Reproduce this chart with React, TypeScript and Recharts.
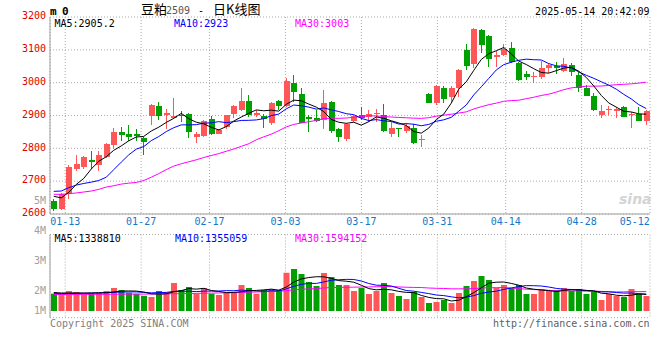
import React from 'react';
import { ComposedChart, Bar, Line, XAxis, YAxis, CartesianGrid, Cell } from 'recharts';

const MONO = "'DejaVu Sans Mono', monospace";
const CJK = "'Noto Sans CJK SC', sans-serif";
const RED = '#ff5757';
const GREEN = '#00a000';
const GRID = '#ababab';
const BORDER = '#a0a0a0';
const DATE_BLUE = '#1478c8';

const dates = [
  '01-09', '01-10', '01-13', '01-14', '01-15', '01-16', '01-17', '01-20', '01-21', '01-22',
  '01-23', '01-24', '01-27', '02-05', '02-06', '02-07', '02-10', '02-11', '02-12', '02-13',
  '02-14', '02-17', '02-18', '02-19', '02-20', '02-21', '02-24', '02-25', '02-26', '02-27',
  '02-28', '03-03', '03-04', '03-05', '03-06', '03-07', '03-10', '03-11', '03-12', '03-13',
  '03-14', '03-17', '03-18', '03-19', '03-20', '03-21', '03-24', '03-25', '03-26', '03-27',
  '03-28', '03-31', '04-01', '04-02', '04-03', '04-07', '04-08', '04-09', '04-10', '04-11',
  '04-14', '04-15', '04-16', '04-17', '04-18', '04-21', '04-22', '04-23', '04-24', '04-25',
  '04-28', '04-29', '04-30', '05-06', '05-07', '05-08', '05-09', '05-12', '05-13', '05-14',
];

const opens = [
  2641, 2614, 2661, 2737, 2743, 2763, 2748, 2774, 2809, 2849,
  2845, 2845, 2832, 2898, 2929, 2901, 2893, 2903, 2906, 2835,
  2837, 2888, 2845, 2865, 2904, 2918, 2945, 2901, 2898, 2878,
  2944, 2929, 3000, 2967, 2896, 2893, 2886, 2942, 2860, 2828,
  2884, 2901, 2896, 2905, 2903, 2845, 2862, 2852, 2862, 2825,
  2967, 2939, 2983, 2957, 2983, 3100, 3056, 3161, 3141, 3077,
  3084, 3107, 3059, 3027, 3019, 3018, 3046, 3052, 3037, 3054,
  3023, 2985, 2959, 2901, 2917, 2914, 2927, 2901, 2906, 2884,
];
const highs = [
  2645, 2665, 2748, 2779, 2776, 2791, 2791, 2816, 2863, 2865,
  2870, 2860, 2835, 2935, 2942, 2919, 2952, 2914, 2908, 2850,
  2886, 2898, 2860, 2903, 2932, 2983, 2962, 2916, 2904, 2942,
  2947, 3015, 3024, 2983, 2901, 2916, 2978, 2945, 2863, 2876,
  2903, 2927, 2916, 2921, 2935, 2881, 2863, 2877, 2874, 2840,
  2969, 2993, 2990, 2990, 3042, 3118, 3167, 3164, 3146, 3095,
  3118, 3123, 3064, 3036, 3031, 3067, 3059, 3062, 3074, 3061,
  3034, 2993, 2969, 2932, 2929, 2925, 2929, 2911, 2925, 2918,
];
const lows = [
  2610, 2612, 2646, 2731, 2738, 2738, 2731, 2771, 2799, 2823,
  2823, 2823, 2779, 2870, 2886, 2860, 2888, 2881, 2832, 2816,
  2833, 2840, 2843, 2860, 2891, 2915, 2896, 2896, 2862, 2871,
  2916, 2925, 2942, 2876, 2850, 2881, 2860, 2847, 2820, 2823,
  2881, 2886, 2881, 2881, 2850, 2833, 2833, 2847, 2812, 2804,
  2937, 2932, 2937, 2942, 2957, 3039, 3046, 3090, 3049, 3049,
  3080, 3061, 3005, 3008, 2998, 3010, 3029, 3025, 3032, 3021,
  2972, 2958, 2913, 2893, 2901, 2891, 2895, 2862, 2883, 2870,
];
const closes = [
  2614, 2661, 2743, 2751, 2773, 2757, 2779, 2812, 2849, 2840,
  2835, 2837, 2820, 2932, 2898, 2908, 2898, 2897, 2850, 2845,
  2883, 2845, 2857, 2901, 2929, 2945, 2901, 2909, 2888, 2939,
  2929, 3005, 2973, 2878, 2889, 2883, 2937, 2853, 2835, 2873,
  2899, 2893, 2906, 2907, 2852, 2862, 2859, 2867, 2816, 2827,
  2939, 2990, 2949, 2983, 3039, 3052, 3164, 3115, 3071, 3084,
  3102, 3064, 3008, 3018, 3021, 3044, 3054, 3046, 3057, 3034,
  2983, 2960, 2916, 2913, 2919, 2920, 2896, 2906, 2884, 2914,
];
const volumes = [
  1392000, 1344000, 1608000, 1528000, 1344000, 1424000, 1448000, 1608000, 1848000, 1688000,
  1472000, 1392000, 1232000, 1128000, 1608000, 1528000, 2248000, 1688000, 1928000, 1392000,
  1848000, 1392000, 1288000, 1472000, 1472000, 2088000, 1848000, 1392000, 1688000, 1768000,
  1688000, 3072000, 3368000, 2968000, 2328000, 2008000, 3048000, 2728000, 2088000, 2088000,
  1608000, 1848000, 1368000, 1608000, 2248000, 1448000, 1208000, 968000, 1528000, 1128000,
  648000, 728000, 888000, 648000, 1448000, 2008000, 2408000, 2808000, 2488000, 1848000,
  2088000, 1848000, 2088000, 1368000, 1368000, 1768000, 1608000, 1688000, 1848000, 1608000,
  1768000, 1368000, 1528000, 888000, 1368000, 1208000, 1128000, 1768000, 1368000, 1208000,
];

// averages for the first days need history before 01-09
const ma5Head = [2654, 2649, 2666, 2690];
const ma10Head = [2669, 2670, 2680, 2688, 2693, 2697, 2702, 2712, 2735];
const ma30Head = [
  2660, 2660, 2662, 2664, 2667, 2670, 2675, 2682, 2686, 2691,
  2694, 2696, 2702, 2712, 2723, 2735, 2746, 2753, 2759, 2765,
  2772, 2778, 2784, 2791, 2798, 2806, 2814, 2826, 2835,
];
const vma5Head = [1490000, 1450000, 1450000, 1450000];
const vma10Head = [1400000, 1400000, 1410000, 1420000, 1430000, 1440000, 1450000, 1470000, 1500000];
const vma30Head = [
  1330000, 1330000, 1335000, 1335000, 1340000, 1340000, 1345000, 1345000, 1350000, 1350000,
  1355000, 1360000, 1360000, 1365000, 1370000, 1380000, 1390000, 1400000, 1410000, 1420000,
  1430000, 1440000, 1450000, 1460000, 1470000, 1490000, 1510000, 1530000, 1550000,
];

const labelDates = ['01-13', '01-27', '02-17', '03-03', '03-17', '03-31', '04-14', '04-28', '05-12'];
const gridDates = labelDates.slice(0, -1);
const priceTicks = [2600, 2700, 2800, 2900, 3000, 3100, 3200];
const volLabelTicks = [1333333, 2000000, 3000000, 4000000, 5000000];

const priceLegend = [
  { text: 'MA5:2905.2', color: '#000', x: 54.5 },
  { text: 'MA10:2923', color: '#0000ff', x: 174 },
  { text: 'MA30:3003', color: '#ff00ff', x: 295 },
];
const volLegend = [
  { text: 'MA5:1338810', color: '#000', x: 54.5 },
  { text: 'MA10:1355059', color: '#0000ff', x: 175 },
  { text: 'MA30:1594152', color: '#ff00ff', x: 295 },
];

const movingAvg = (vals: number[], n: number, head: number[]) =>
  vals.map((_, i) =>
    i < n - 1 ? head[i] : vals.slice(i - n + 1, i + 1).reduce((a, b) => a + b, 0) / n
  );

const ma5 = movingAvg(closes, 5, ma5Head);
const ma10 = movingAvg(closes, 10, ma10Head);
const ma30 = movingAvg(closes, 30, ma30Head);
const vma5 = movingAvg(volumes, 5, vma5Head);
const vma10 = movingAvg(volumes, 10, vma10Head);
const vma30 = movingAvg(volumes, 30, vma30Head);

const rows = dates.map((date, i) => ({
  date,
  idx: i,
  open: opens[i],
  high: highs[i],
  low: lows[i],
  close: closes[i],
  range: [lows[i], highs[i]],
  ma5: ma5[i],
  ma10: ma10[i],
  ma30: ma30[i],
  volume: volumes[i],
  vma5: vma5[i],
  vma10: vma10[i],
  vma30: vma30[i],
}));

const gridIdx = gridDates.map((d) => dates.indexOf(d));
const labelIdx = labelDates.map((d) => dates.indexOf(d));
const lastIdx = dates.length - 1;

const Candle = (props: any) => {
  const { x, y, width, height, payload } = props;
  const { open, close, high, low } = payload;
  const color = close >= open ? RED : GREEN;
  const top = Math.min(y, y + height);
  const h = Math.abs(height);
  const k = h / (high - low);
  const yO = top + (high - open) * k;
  const yC = top + (high - close) * k;
  const bx = Math.round(x);
  const bTop = Math.round(Math.min(yO, yC));
  const bH = Math.max(1, Math.round(Math.max(yO, yC)) - bTop);
  return (
    <g>
      <line x1={bx + 2.5} x2={bx + 2.5} y1={Math.round(top)} y2={Math.round(top + h)} stroke={color} strokeWidth={1} />
      <rect x={bx} y={bTop} width={width} height={bH} fill={color} />
    </g>
  );
};

const PriceTick = (p: any) => (
  <text x={p.x} y={p.y} dy={2.2} textAnchor="end" fill="#e00000" fontSize={10} fontFamily={MONO}>
    {p.payload.value}
  </text>
);

const DateTick = (p: any) => (
  <text x={p.x} y={p.y} dy={11.3} textAnchor="middle" fill={DATE_BLUE} fontSize={10} fontFamily={MONO}>
    {dates[p.payload.value]}
  </text>
);

const VolTick = (p: any) => (
  <text x={p.x} y={p.y} dy={3.6} textAnchor="end" fill="#a0a0a0" fontSize={10} fontFamily={MONO}>
    {`${Math.round(p.payload.value / 1e6)}M`}
  </text>
);

const PriceChart = () => (
  <ComposedChart width={660} height={232} data={rows} margin={{ top: 17, right: 10, bottom: 0, left: 0 }}>
    <CartesianGrid xAxisId="grid" yAxisId="price" stroke={GRID} strokeDasharray="1 2" />
    <XAxis
      xAxisId="dates"
      dataKey="idx"
      type="number"
      domain={[0, lastIdx]}
      ticks={labelIdx}
      interval={0}
      allowDataOverflow
      height={18}
      tickSize={0}
      tickMargin={0}
      tickLine={false}
      axisLine={{ stroke: BORDER }}
      tick={DateTick}
    />
    <XAxis xAxisId="band" dataKey="date" height={0} hide />
    <XAxis xAxisId="grid" dataKey="idx" type="number" domain={[0, lastIdx]} ticks={gridIdx} allowDataOverflow height={0} hide />
    <XAxis
      xAxisId="top"
      orientation="top"
      dataKey="idx"
      type="number"
      domain={[0, lastIdx]}
      allowDataOverflow
      height={0}
      tick={false}
      tickLine={false}
      axisLine={{ stroke: BORDER }}
    />
    <YAxis
      yAxisId="price"
      domain={[2600, 3200]}
      ticks={priceTicks}
      interval={0}
      allowDataOverflow
      width={50}
      tickSize={0}
      tickMargin={4}
      tickLine={false}
      axisLine={{ stroke: BORDER }}
      tick={PriceTick}
    />
    <YAxis
      yAxisId="right"
      orientation="right"
      domain={[2600, 3200]}
      width={0}
      tick={false}
      tickLine={false}
      axisLine={{ stroke: BORDER }}
    />
    <Bar xAxisId="band" yAxisId="price" dataKey="range" barSize={6} shape={Candle} isAnimationActive={false} />
    <Line xAxisId="band" yAxisId="price" dataKey="ma30" stroke="#ff00ff" strokeWidth={1} dot={false} isAnimationActive={false} />
    <Line xAxisId="band" yAxisId="price" dataKey="ma10" stroke="#0000ff" strokeWidth={1} dot={false} isAnimationActive={false} />
    <Line xAxisId="band" yAxisId="price" dataKey="ma5" stroke="#000" strokeWidth={1} dot={false} isAnimationActive={false} />
  </ComposedChart>
);

// panel: plot area y 234.5..317.7, volume 0 sits about 6.6px above the bottom edge
const VolumeChart = () => (
  <ComposedChart width={660} height={140} data={rows} margin={{ top: 44.5, right: 10, bottom: 12.3, left: 0 }}>
    <CartesianGrid xAxisId="grid" yAxisId="q" stroke={GRID} strokeDasharray="1 2" />
    <XAxis
      xAxisId="bottom"
      dataKey="idx"
      type="number"
      domain={[0, lastIdx]}
      allowDataOverflow
      height={0}
      tick={false}
      tickLine={false}
      axisLine={{ stroke: BORDER }}
    />
    <XAxis xAxisId="band" dataKey="date" height={0} hide />
    <XAxis xAxisId="grid" dataKey="idx" type="number" domain={[0, lastIdx]} ticks={gridIdx} allowDataOverflow height={0} hide />
    <YAxis
      yAxisId="q"
      domain={[0, 4]}
      ticks={[0, 1, 2, 3, 4]}
      interval={0}
      allowDataOverflow
      width={50}
      tick={false}
      tickLine={false}
      axisLine={{ stroke: BORDER }}
    />
    <YAxis yAxisId="vol" domain={[-528000, 6128000]} allowDataOverflow width={0} hide />
    <YAxis
      yAxisId="rv"
      orientation="right"
      domain={[0, 4]}
      width={0}
      tick={false}
      tickLine={false}
      axisLine={{ stroke: BORDER }}
    />
    <Bar xAxisId="band" yAxisId="vol" dataKey="volume" barSize={6} isAnimationActive={false}>
      {rows.map((r) => (
        <Cell key={r.date} fill={r.close >= r.open ? RED : GREEN} />
      ))}
    </Bar>
    <Line xAxisId="band" yAxisId="vol" dataKey="vma30" stroke="#ff00ff" strokeWidth={1} dot={false} isAnimationActive={false} />
    <Line xAxisId="band" yAxisId="vol" dataKey="vma10" stroke="#0000ff" strokeWidth={1} dot={false} isAnimationActive={false} />
    <Line xAxisId="band" yAxisId="vol" dataKey="vma5" stroke="#000" strokeWidth={1} dot={false} isAnimationActive={false} />
  </ComposedChart>
);

// the volume scale labels sit on their own 30px-per-million grid, reaching up to 5M beside the price panel
// plot area here spans page y 180..330
const VolumeLabels = () => (
  <ComposedChart width={60} height={170} data={rows} margin={{ top: 10, right: 0, bottom: 10, left: 0 }}>
    <XAxis xAxisId="band" dataKey="date" height={0} hide />
    <YAxis
      yAxisId="lbl"
      domain={[690000, 5690000]}
      ticks={volLabelTicks}
      interval={0}
      allowDataOverflow
      width={50}
      tickSize={0}
      tickMargin={4}
      tickLine={false}
      axisLine={false}
      tick={VolTick}
    />
  </ComposedChart>
);

export default function App() {
  return (
    <div style={{ position: 'absolute', left: 0, top: 0, width: 660, height: 360, background: '#fff', overflow: 'hidden' }}>
      <div style={{ position: 'absolute', left: 0, top: 190 }}>
        <VolumeChart />
      </div>
      <div style={{ position: 'absolute', left: 0, top: 0 }}>
        <PriceChart />
      </div>
      <div style={{ position: 'absolute', left: 0, top: 170 }}>
        <VolumeLabels />
      </div>
      <svg width={660} height={360} style={{ position: 'absolute', left: 0, top: 0, pointerEvents: 'none' }}>
        <text x={50} y={15} fontFamily={MONO} fontSize={11} fontWeight="bold" fill="#000">m</text>
        <text x={62} y={15} fontFamily={MONO} fontSize={11} fontWeight="bold" fill="#000">0</text>
        <text x={141} y={14} fontFamily={CJK} fontSize={13} fill="#000">豆粕</text>
        <text x={166} y={14} fontFamily={MONO} fontSize={10} fill="#555">2509</text>
        <text x={198} y={14} fontFamily={MONO} fontSize={10} fill="#000">-</text>
        <text x={213} y={14} fontFamily={CJK} fontSize={13} fill="#000">日K线图</text>
        <text x={649.5} y={15} textAnchor="end" fontFamily={MONO} fontSize={10} fill="#000">2025-05-14 20:42:09</text>
        {priceLegend.map((l) => (
          <text key={l.text} x={l.x} y={26.7} fontFamily={MONO} fontSize={10} fill={l.color}>{l.text}</text>
        ))}
        {volLegend.map((l) => (
          <text key={l.text} x={l.x} y={241.7} fontFamily={MONO} fontSize={10} fill={l.color}>{l.text}</text>
        ))}
        <text x={619} y={204} fontFamily="'DejaVu Sans', sans-serif" fontStyle="italic" fontWeight="bold" fontSize={14} fill="#d4d4d4">sina</text>
        <text x={50} y={326.7} fontFamily={MONO} fontSize={10} fill="#808080">Copyright 2025 SINA.COM</text>
        <text x={649.5} y={326.7} textAnchor="end" fontFamily={MONO} fontSize={10} fill="#606060">http://finance.sina.com.cn</text>
      </svg>
    </div>
  );
}
